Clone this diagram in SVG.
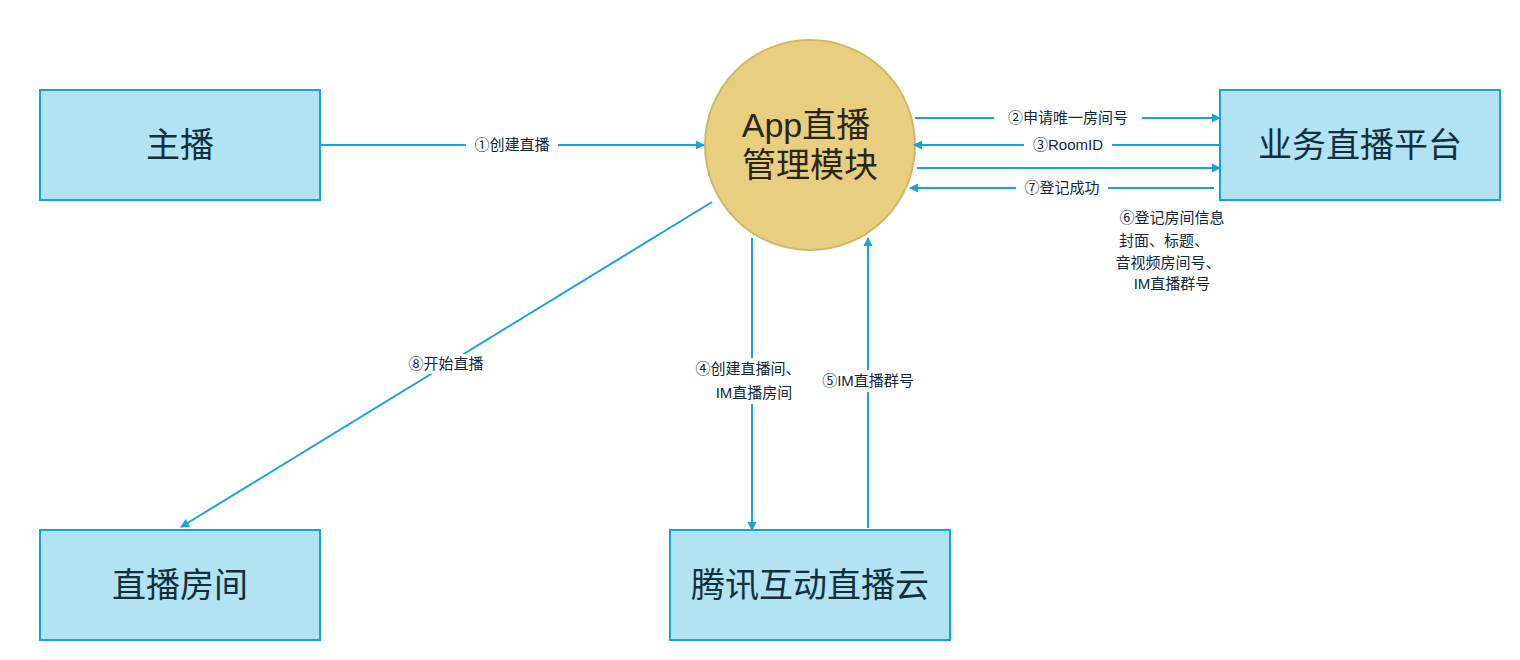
<svg xmlns="http://www.w3.org/2000/svg" width="1520" height="660" viewBox="0 0 1520 660">
<style>
.box{fill:#b1e3f3;stroke:#16a2d7;stroke-width:2}
.bt{font-family:"Liberation Sans","Noto Sans CJK SC",sans-serif;font-size:34px;fill:#10303f;text-anchor:middle}
.ln{stroke:#1aa3d9;stroke-width:2;fill:none;marker-end:url(#a)}
.lb{font-family:"Liberation Sans","Noto Sans CJK SC",sans-serif;font-size:15px;fill:#10283a;text-anchor:middle}
.bg{fill:#fff}
</style>
<defs><marker id="a" viewBox="0 0 10 10" refX="9" refY="5" markerWidth="7" markerHeight="7" orient="auto" markerUnits="userSpaceOnUse" style="overflow:visible"><path d="M0,0 L10,5 L0,10 z" fill="#1aa3d9" transform="scale(1.3) translate(-2,-1.15)"/></marker></defs>
<rect width="1520" height="660" fill="#fff"/>
<g id="host"><rect class="box" x="40" y="90" width="280" height="110"/><text class="bt" x="180" y="157">主播</text></g>
<g id="platform"><rect class="box" x="1220" y="90" width="280" height="110"/><text class="bt" x="1360" y="157">业务直播平台</text></g>
<g id="room"><rect class="box" x="40" y="530" width="280" height="110"/><text class="bt" x="180" y="597">直播房间</text></g>
<g id="cloud"><rect class="box" x="670" y="530" width="280" height="110"/><text class="bt" x="810" y="597">腾讯互动直播云</text></g>
<g id="app"><circle cx="810" cy="145" r="105" fill="#e8ce7f" stroke="#d2b767" stroke-width="2"/><text class="bt" x="806" y="137" fill="#2a2618" style="fill:#2a2618">App直播</text><text class="bt" x="810" y="177" style="fill:#2a2618">管理模块</text></g>
<g id="connectors">
<line class="ln" x1="320" y1="145" x2="704" y2="145"/>
<rect class="bg" x="466" y="135" width="92" height="20"/><text class="lb" x="512" y="150">①创建直播</text>
<line class="ln" x1="915" y1="118" x2="1220" y2="118"/>
<rect class="bg" x="994" y="108" width="148" height="20"/><text class="lb" x="1068" y="123">②申请唯一房间号</text>
<line class="ln" x1="1220" y1="145" x2="914" y2="145"/>
<rect class="bg" x="1024" y="135" width="88" height="20"/><text class="lb" x="1068" y="150">③RoomID</text>
<line class="ln" x1="917" y1="168" x2="1220" y2="168"/>
<line class="ln" x1="1214" y1="188" x2="910" y2="188"/>
<rect class="bg" x="1016" y="178" width="92" height="20"/><text class="lb" x="1062" y="193">⑦登记成功</text>
<text class="lb" x="1172" y="223">⑥登记房间信息</text>
<text class="lb" x="1164" y="246">封面、标题、</text>
<text class="lb" x="1168" y="268">音视频房间号、</text>
<text class="lb" x="1172" y="289">IM直播群号</text>
<line class="ln" x1="712" y1="202" x2="181" y2="527"/>
<rect class="bg" x="400" y="354" width="92" height="20"/><text class="lb" x="446" y="369">⑧开始直播</text>
<line class="ln" x1="752" y1="238" x2="752" y2="530"/>
<rect class="bg" x="688" y="358" width="122" height="46"/><text class="lb" x="748" y="374">④创建直播间、</text><text class="lb" x="754" y="398">IM直播房间</text>
<line class="ln" x1="868" y1="528" x2="868" y2="238"/>
<rect class="bg" x="812" y="370" width="112" height="22"/><text class="lb" x="868" y="386">⑤IM直播群号</text>
</g>
</svg>
